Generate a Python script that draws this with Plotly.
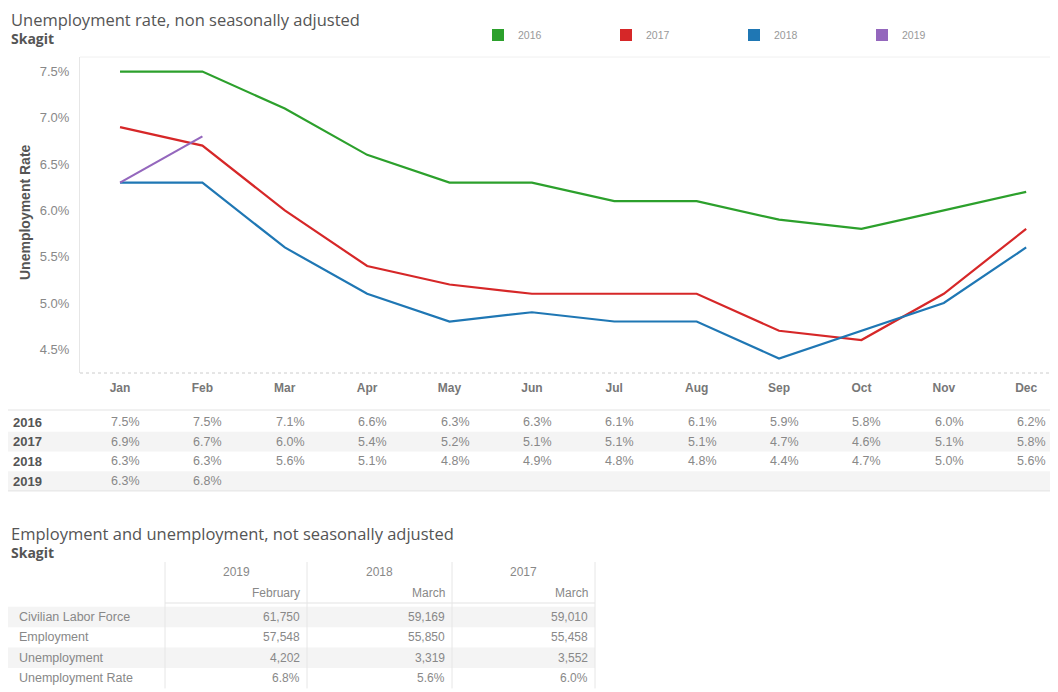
import plotly.graph_objects as go

# ---------------- data ----------------
months = ["Jan", "Feb", "Mar", "Apr", "May", "Jun", "Jul", "Aug", "Sep", "Oct", "Nov", "Dec"]
years = ["2016", "2017", "2018", "2019"]
rate_2016 = [7.5, 7.5, 7.1, 6.6, 6.3, 6.3, 6.1, 6.1, 5.9, 5.8, 6.0, 6.2]
rate_2017 = [6.9, 6.7, 6.0, 5.4, 5.2, 5.1, 5.1, 5.1, 4.7, 4.6, 5.1, 5.8]
rate_2018 = [6.3, 6.3, 5.6, 5.1, 4.8, 4.9, 4.8, 4.8, 4.4, 4.7, 5.0, 5.6]
rate_2019 = [6.3, 6.8]
y_ticks = [4.5, 5.0, 5.5, 6.0, 6.5, 7.0, 7.5]

emp_years = ["2019", "2018", "2017"]
emp_months = ["February", "March", "March"]
emp_rows = ["Civilian Labor Force", "Employment", "Unemployment", "Unemployment Rate"]
labor_force = [61750, 59169, 59010]
employment = [57548, 55850, 55458]
unemployment = [4202, 3319, 3552]
unemp_rate = [6.8, 5.6, 6.0]

series = [rate_2016, rate_2017, rate_2018, rate_2019]
colors = ["#2ca02c", "#d62728", "#1f77b4", "#9467bd"]

# ---------------- layout helpers ----------------
OFF = 8                      # page body margin
W, H = 1058 - OFF, 692 - OFF
def xp(px):
    return (px - OFF) / W
def yp(py):
    return 1 - (py - OFF) / H

FONT = "Liberation Sans, Arial, sans-serif"
TFONT = "Open Sans, Noto Sans, sans-serif"

fig = go.Figure()

for name, vals, c in zip(years, series, colors):
    fig.add_trace(go.Scatter(
        x=list(range(len(vals))), y=vals, mode="lines", name=name,
        line=dict(color=c, width=2.2), showlegend=False,
        hovertemplate=name + " %{x}: %{y:.1f}%<extra></extra>"))

# legend entries (square swatches)
for name, c in zip(years, colors):
    fig.add_trace(go.Scatter(
        x=[None], y=[None], mode="markers", name=name,
        marker=dict(symbol="square", size=12, color=c), showlegend=True))

shapes = []
annotations = []

def two_line_title(line1, line2, y_center):
    return dict(text='<span style="font-size:16.5px">' + line1 + "</span><br><b>" + line2 + "</b>",
                x=xp(9), y=yp(y_center), xref="paper", yref="paper", xanchor="left", yanchor="middle",
                align="left", showarrow=False, font=dict(family=TFONT, size=14, color="#555555"))

# titles
annotations.append(two_line_title("Unemployment rate, non seasonally adjusted", "Skagit", 28))

# plot frame lines
shapes.append(dict(type="line", xref="paper", yref="paper", x0=xp(80), x1=1, y0=yp(373), y1=yp(373),
                   line=dict(color="#cccccc", width=1, dash="dot")))
shapes.append(dict(type="line", xref="paper", yref="paper", x0=xp(80), x1=1, y0=yp(57), y1=yp(57),
                   line=dict(color="#f0f0f0", width=1)))

# ---------------- table 1 (monthly rates) ----------------
row_h = 19.7
row_c0 = 422
shapes.append(dict(type="line", xref="paper", yref="paper", x0=0, x1=1, y0=yp(410), y1=yp(410),
                   line=dict(color="#e3e3e3", width=1)))
for r, (name, vals) in enumerate(zip(years, series)):
    cy = row_c0 + r * row_h
    if r % 2 == 1:
        shapes.append(dict(type="rect", xref="paper", yref="paper", x0=0, x1=1,
                           y0=yp(cy + row_h / 2), y1=yp(cy - row_h / 2),
                           fillcolor="#f4f4f4", line=dict(width=0), layer="below"))
    annotations.append(dict(text="<b>" + name + "</b>", x=xp(11), y=yp(cy), xref="paper", yref="paper",
                            xanchor="left", yanchor="middle", showarrow=False,
                            font=dict(family=FONT, size=13, color="#555555")))
    for i, v in enumerate(vals):
        annotations.append(dict(text=f"{v:.1f}%", x=i, y=yp(cy), xref="x", yref="paper",
                                xanchor="right", yanchor="middle", xshift=22, showarrow=False,
                                font=dict(family=FONT, size=12.5, color="#888888")))
shapes.append(dict(type="line", xref="paper", yref="paper", x0=0, x1=1,
                   y0=yp(row_c0 + 3.5 * row_h), y1=yp(row_c0 + 3.5 * row_h),
                   line=dict(color="#e3e3e3", width=1)))

# ---------------- table 2 (employment) ----------------
annotations.append(two_line_title("Employment and unemployment, not seasonally adjusted", "Skagit", 542))

col_edges = [165, 307, 452, 595]
tbl_left = 8
head_y1, head_y2 = 572, 593
head_line = 603
t2_c0, t2_h = 617, 20.4
t2_cols = [[f"{labor_force[j]:,}", f"{employment[j]:,}", f"{unemployment[j]:,}", f"{unemp_rate[j]:.1f}%"]
           for j in range(3)]
for r, lab in enumerate(emp_rows):
    cy = t2_c0 + r * t2_h
    if r % 2 == 0:
        shapes.append(dict(type="rect", xref="paper", yref="paper", x0=xp(tbl_left), x1=xp(col_edges[-1]),
                           y0=yp(cy + t2_h / 2), y1=yp(cy - t2_h / 2),
                           fillcolor="#f4f4f4", line=dict(width=0), layer="below"))
    annotations.append(dict(text=lab, x=xp(17), y=yp(cy), xref="paper", yref="paper",
                            xanchor="left", yanchor="middle", showarrow=False,
                            font=dict(family=FONT, size=12.5, color="#888888")))
    for j in range(3):
        annotations.append(dict(text=t2_cols[j][r], x=xp(col_edges[j + 1] - 5), y=yp(cy),
                                xref="paper", yref="paper", xanchor="right", yanchor="middle",
                                showarrow=False, font=dict(family=FONT, size=12, color="#888888")))
for j in range(3):
    annotations.append(dict(text=emp_years[j], x=xp((col_edges[j] + col_edges[j + 1]) / 2), y=yp(head_y1),
                            xref="paper", yref="paper", xanchor="center", yanchor="middle", showarrow=False,
                            font=dict(family=FONT, size=12, color="#888888")))
    annotations.append(dict(text=emp_months[j], x=xp(col_edges[j + 1] - 5), y=yp(head_y2),
                            xref="paper", yref="paper", xanchor="right", yanchor="middle", showarrow=False,
                            font=dict(family=FONT, size=12, color="#888888")))
shapes.append(dict(type="line", xref="paper", yref="paper", x0=xp(col_edges[0]), x1=xp(col_edges[-1]),
                   y0=yp(head_line), y1=yp(head_line), line=dict(color="#e3e3e3", width=1)))
for e in col_edges:
    shapes.append(dict(type="line", xref="paper", yref="paper", x0=xp(e), x1=xp(e),
                       y0=yp(562), y1=yp(t2_c0 + 3.5 * t2_h), line=dict(color="#e6e6e6", width=1)))

# rotated y-axis title
annotations.append(dict(text="<b>Unemployment Rate</b>", x=xp(25), y=yp(212), xref="paper", yref="paper",
                        xanchor="center", yanchor="middle", textangle=-90, showarrow=False,
                        font=dict(family=FONT, size=14, color="#555555")))

fig.update_layout(
    width=W, height=H,
    margin=dict(l=0, r=0, t=0, b=0, autoexpand=False),
    paper_bgcolor="white", plot_bgcolor="white",
    shapes=shapes, annotations=annotations,
    showlegend=True,
    legend=dict(orientation="h", x=xp(478), y=yp(35), xanchor="left", yanchor="middle",
                entrywidth=83, entrywidthmode="pixels", itemwidth=30,
                font=dict(family=FONT, size=10.5, color="#999999"), bgcolor="rgba(0,0,0,0)"),
    xaxis=dict(domain=[xp(80), xp(1055)], range=[-0.486, 11.35],
               tickvals=list(range(12)), ticktext=["<b>" + m + "</b>" for m in months],
               showgrid=False, zeroline=False,
               showline=False, ticks="", ticklabelstandoff=6,
               tickfont=dict(family=FONT, size=12, color="#777777")),
    yaxis=dict(domain=[yp(373), yp(57)], range=[4.244, 7.657],
               tickvals=y_ticks, ticktext=[f"{v:.1f}%" for v in y_ticks],
               showgrid=False, zeroline=False, showline=True, linecolor="#e6e6e6", linewidth=1,
               ticks="", ticklabelstandoff=7,
               tickfont=dict(family=FONT, size=13, color="#888888")),
    font=dict(family=FONT),
)

fig.write_html("out.html")
